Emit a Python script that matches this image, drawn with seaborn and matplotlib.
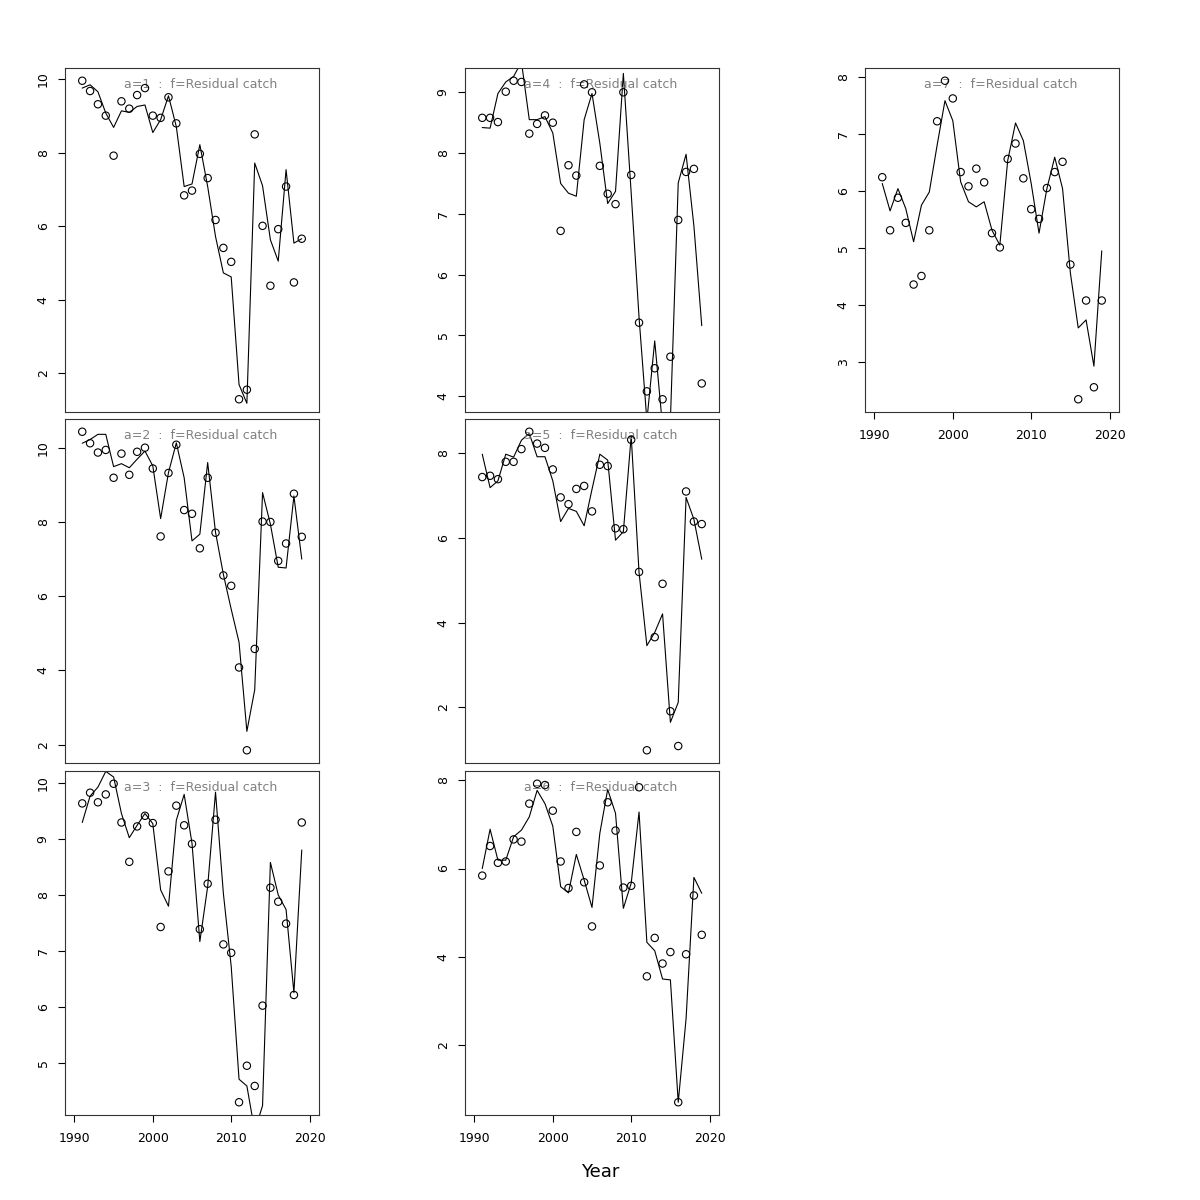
import numpy as np
import pandas as pd
import matplotlib.pyplot as plt
import seaborn as sns

# Years on the x axis
years = np.arange(1991, 2020)

# Observed (circles) and fitted (line) values per age panel
obs_a1 = [9.96, 9.68, 9.32, 9.01, 7.92, 9.40, 9.20, 9.57, 9.76, 9.01, 8.95, 9.51, 8.80, 6.84, 6.97,
          7.97, 7.31, 6.17, 5.41, 5.03, 1.29, 1.55, 8.50, 6.01, 4.38, 5.92, 7.08, 4.47, 5.66]
fit_a1 = [9.76, 9.85, 9.66, 9.08, 8.69, 9.14, 9.10, 9.26, 9.30, 8.55, 8.90, 9.55, 8.71, 7.08, 7.15,
          8.22, 7.08, 5.72, 4.73, 4.62, 1.69, 1.18, 7.72, 7.10, 5.63, 5.05, 7.54, 5.54, 5.66]

obs_a2 = [10.43, 10.12, 9.87, 9.94, 9.19, 9.84, 9.27, 9.89, 10.00, 9.44, 7.61, 9.32, 10.08, 8.32, 8.22,
          7.29, 9.19, 7.71, 6.56, 6.28, 4.08, 1.85, 4.58, 8.01, 8.00, 6.95, 7.42, 8.76, 7.60]
fit_a2 = [10.12, 10.22, 10.36, 10.36, 9.49, 9.57, 9.46, 9.69, 9.91, 9.51, 8.09, 9.33, 10.13, 9.19, 7.49,
          7.67, 9.60, 7.72, 6.59, 5.65, 4.76, 2.36, 3.48, 8.79, 7.94, 6.78, 6.76, 8.70, 7.00]

obs_a3 = [9.63, 9.82, 9.65, 9.79, 9.98, 9.29, 8.59, 9.22, 9.41, 9.28, 7.43, 8.42, 9.59, 9.24, 8.91,
          7.39, 8.20, 9.34, 7.12, 6.97, 4.31, 4.96, 4.60, 6.03, 8.13, 7.88, 7.49, 6.22, 9.29]
fit_a3 = [9.29, 9.76, 9.92, 10.20, 10.10, 9.45, 9.02, 9.24, 9.45, 9.27, 8.09, 7.80, 9.33, 9.79, 8.92,
          7.17, 8.15, 9.83, 8.03, 6.73, 4.72, 4.60, 3.80, 4.25, 8.58, 8.00, 7.74, 6.26, 8.80]

obs_a4 = [8.58, 8.58, 8.51, 9.01, 9.19, 9.17, 8.32, 8.48, 8.62, 8.50, 6.72, 7.80, 7.63, 9.13, 9.00,
          7.79, 7.33, 7.16, 9.00, 7.64, 5.21, 4.08, 4.46, 3.95, 4.65, 6.90, 7.69, 7.74, 4.21]
fit_a4 = [8.42, 8.41, 8.98, 9.17, 9.26, 9.50, 8.55, 8.55, 8.60, 8.33, 7.50, 7.34, 7.29, 8.55, 8.98,
          8.16, 7.17, 7.37, 9.31, 7.34, 5.30, 3.60, 4.91, 3.50, 3.60, 7.51, 7.98, 6.80, 5.16]

obs_a5 = [7.44, 7.47, 7.39, 7.80, 7.80, 8.10, 8.51, 8.23, 8.13, 7.62, 6.96, 6.80, 7.16, 7.23, 6.63,
          7.73, 7.70, 6.23, 6.21, 8.32, 5.20, 0.99, 3.66, 4.92, 1.91, 1.09, 7.10, 6.39, 6.33]
fit_a5 = [7.98, 7.19, 7.35, 7.98, 7.91, 8.31, 8.47, 7.92, 7.92, 7.35, 6.39, 6.70, 6.63, 6.29, 7.15,
          7.98, 7.84, 5.95, 6.15, 8.41, 5.19, 3.46, 3.77, 4.21, 1.65, 2.12, 6.96, 6.44, 5.50]

obs_a6 = [5.84, 6.51, 6.13, 6.16, 6.66, 6.61, 7.47, 7.92, 7.89, 7.31, 6.16, 5.56, 6.83, 5.69, 4.69,
          6.07, 7.50, 6.86, 5.57, 5.61, 7.84, 3.56, 4.43, 3.85, 4.11, 0.71, 4.06, 5.39, 4.50]
fit_a6 = [6.00, 6.89, 6.19, 6.19, 6.72, 6.87, 7.17, 7.77, 7.47, 6.96, 5.59, 5.45, 6.32, 5.74, 5.12,
          6.80, 7.79, 7.25, 5.10, 5.67, 7.28, 4.33, 4.14, 3.50, 3.48, 0.71, 2.60, 5.80, 5.44]

obs_a7 = [6.24, 5.31, 5.88, 5.44, 4.36, 4.51, 5.31, 7.22, 7.93, 7.62, 6.33, 6.08, 6.39, 6.15, 5.26,
          5.01, 6.56, 6.83, 6.22, 5.68, 5.51, 6.05, 6.33, 6.51, 4.71, 2.35, 4.08, 2.56, 4.08]
fit_a7 = [6.13, 5.65, 6.04, 5.69, 5.11, 5.75, 5.98, 6.80, 7.58, 7.23, 6.16, 5.81, 5.72, 5.81, 5.31,
          5.05, 6.53, 7.19, 6.88, 6.13, 5.26, 6.04, 6.59, 6.04, 4.56, 3.60, 3.74, 2.93, 4.95]

# Tick labels
xticks = [1990, 2000, 2010, 2020]
yticks_a1 = [2, 4, 6, 8, 10]
yticks_a2 = [2, 4, 6, 8, 10]
yticks_a3 = [5, 6, 7, 8, 9, 10]
yticks_a4 = [4, 5, 6, 7, 8, 9]
yticks_a5 = [2, 4, 6, 8]
yticks_a6 = [2, 4, 6, 8]
yticks_a7 = [3, 4, 5, 6, 7, 8]

sns.set_theme(style="ticks")
plt.rcParams["font.family"] = ["DejaVu Sans"]

fig = plt.figure(figsize=(12, 12), dpi=100)

# panel grid in pixels (column-wise like par(mfcol))
col_left = [65, 465, 865]
row_top = [68, 419, 771]
pw, ph = 254, 344

panels = [
    (0, 0, "a=1", obs_a1, fit_a1, yticks_a1, False),
    (0, 1, "a=2", obs_a2, fit_a2, yticks_a2, False),
    (0, 2, "a=3", obs_a3, fit_a3, yticks_a3, True),
    (1, 0, "a=4", obs_a4, fit_a4, yticks_a4, False),
    (1, 1, "a=5", obs_a5, fit_a5, yticks_a5, False),
    (1, 2, "a=6", obs_a6, fit_a6, yticks_a6, True),
    (2, 0, "a=7", obs_a7, fit_a7, yticks_a7, True),
]

for col, row, label, obs, fit, yt, show_x in panels:
    ax = fig.add_axes([col_left[col] / 1200, 1 - (row_top[row] + ph) / 1200, pw / 1200, ph / 1200])
    df = pd.DataFrame({"Year": years, "obs": obs, "fit": fit})

    sns.scatterplot(data=df, x="Year", y="obs", ax=ax, marker="o", s=28,
                    facecolor="none", edgecolor="black", linewidth=0.8, zorder=3)
    sns.lineplot(data=df, x="Year", y="fit", ax=ax, color="black", lw=0.8, zorder=2)

    # R-style limits: range of observations +/- 4%
    lo, hi = min(obs), max(obs)
    pad = 0.04 * (hi - lo)
    ax.set_ylim(lo - pad, hi + pad)
    ax.set_xlim(1990 - 0.04 * 30, 2020 + 0.04 * 30)

    ax.set_yticks(yt)
    ax.tick_params(axis="y", labelrotation=90, length=5, width=0.8, pad=6, labelsize=9,
                   color="black", labelcolor="black")
    for t in ax.get_yticklabels():
        t.set_va("center")
    if show_x:
        ax.set_xticks(xticks)
        ax.tick_params(axis="x", length=5, width=0.8, pad=7, labelsize=9,
                       color="black", labelcolor="black")
    else:
        ax.set_xticks([])

    ax.set_xlabel("")
    ax.set_ylabel("")
    for sp in ax.spines.values():
        sp.set_color("#333333")
        sp.set_linewidth(0.8)

    ax.text(0.533, 0.953, f"{label}  :  f=Residual catch", transform=ax.transAxes,
            ha="center", va="center", color="#808080", fontsize=9, zorder=2.5)

fig.text(0.5, 1 - 1172 / 1200, "Year", ha="center", va="center", fontsize=13, color="black")

fig.savefig("out.png", dpi=100)
